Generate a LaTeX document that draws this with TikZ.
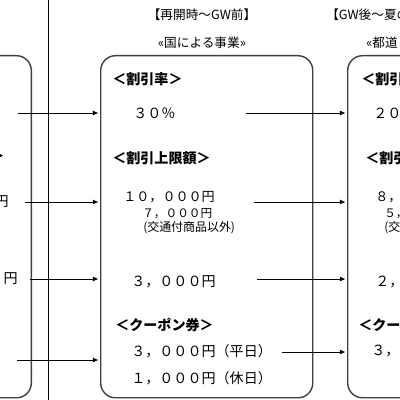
\documentclass[tikz,border=0pt]{standalone}
\usepackage{fontspec}
\setmainfont{Noto Sans CJK JP}
\usetikzlibrary{arrows.meta}
\definecolor{panelgray}{HTML}{404040}

\begin{document}
\begin{tikzpicture}[x=0.025cm, y=-0.025cm, font=\fontsize{10}{12}\selectfont,
    panel/.style={draw=panelgray, line width=1pt, rounded corners=10.5pt, minimum width=5.3cm, minimum height=8.55cm, inner sep=0pt},
    flow/.style={-{Latex[length=4pt,width=3.5pt]}, line width=0.7pt, shorten >=1pt},
    hdr/.style={inner sep=0pt, font=\fontsize{9}{11}\selectfont},
    head/.style={anchor=west, inner sep=0pt, font=\fontsize{10}{12}\selectfont\bfseries},
    val/.style={anchor=west, inner sep=0pt},
    big/.style={anchor=west, inner sep=0pt, font=\fontsize{9.3}{11}\selectfont},
    small/.style={anchor=west, inner sep=0pt, font=\fontsize{8.3}{9}\selectfont},
    note/.style={anchor=west, inner sep=0pt, font=\fontsize{8.5}{10}\selectfont}]
  \useasboundingbox (0,0) rectangle (400,400);
  \clip (0,0) rectangle (400,400);
  % Kastenrahmen
  \node[panel, anchor=north east] (leftbox) at (32,55) {};
  \node[panel, anchor=north west] (midbox) at (100,55) {};
  \node[panel, anchor=north west] (rightbox) at (347,55) {};
  % Trennlinie
  \draw[line width=0.7pt] (48,0) -- (48,400);
  % Kopfzeilen
  \node[hdr] (era1) at (202,15) {【再開時～GW前】};
  \node[hdr] (org1) at (202,43) {«国による事業»};
  \node[hdr, anchor=west] (era2) at (326,15) {【GW後～夏の};
  \node[hdr, anchor=west] (org2) at (366,43) {«都道};
  % linker Kasten (Reste)
  \node[head, anchor=east] (l2) at (5,156) {＞};
  \node[val, anchor=east] (l2v) at (9,202) {円};
  \node[val, anchor=east] (l3v) at (18,279) {円};
  % mittlerer Kasten
  \node[head] (m1) at (112,79) {＜割引率＞};
  \node[val] (m1v) at (133,113) {３０％};
  \node[head] (m2) at (112,158) {＜割引上限額＞};
  \node[big] (m2v) at (123,197) {１０，０００円};
  \node[small] (m2w) at (142,214) {７，０００円};
  \node[note] (m2n) at (143,228) {(交通付商品以外)};
  \node[val] (m3v) at (131,282) {３，０００円};
  \node[head] (m4) at (115,325) {＜クーポン券＞};
  \node[val] (m4a) at (131,351) {３，０００円（平日）};
  \node[val] (m4b) at (131,378) {１，０００円（休日）};
  % rechter Kasten (Reste)
  \node[head] (r1) at (361,79) {＜割引};
  \node[val] (r1v) at (373,113) {２０};
  \node[head] (r2) at (365,158) {＜割引};
  \node[big] (r2v) at (375,197) {８，０};
  \node[small] (r2w) at (384,214) {５，};
  \node[note] (r2n) at (384,228) {(交};
  \node[val] (r3v) at (375,282) {２，０};
  \node[head] (r4) at (358,325) {＜クー};
  \node[val] (r4a) at (371,351) {３，０};
  % Pfeile
  \coordinate (la) at (18,113);
  \coordinate (lb) at (25,202);
  \coordinate (lc) at (30,279);
  \coordinate (ld) at (17,360);
  \coordinate (ma) at (246,113);
  \coordinate (mb) at (254,202);
  \coordinate (mc) at (257,279);
  \coordinate (md) at (282,352);
  \foreach \p in {la,lb,lc,ld}
    \draw[flow] (\p) -- (\p -| midbox.west);
  \foreach \p in {ma,mb,mc,md}
    \draw[flow] (\p) -- (\p -| rightbox.west);
\end{tikzpicture}
\end{document}
